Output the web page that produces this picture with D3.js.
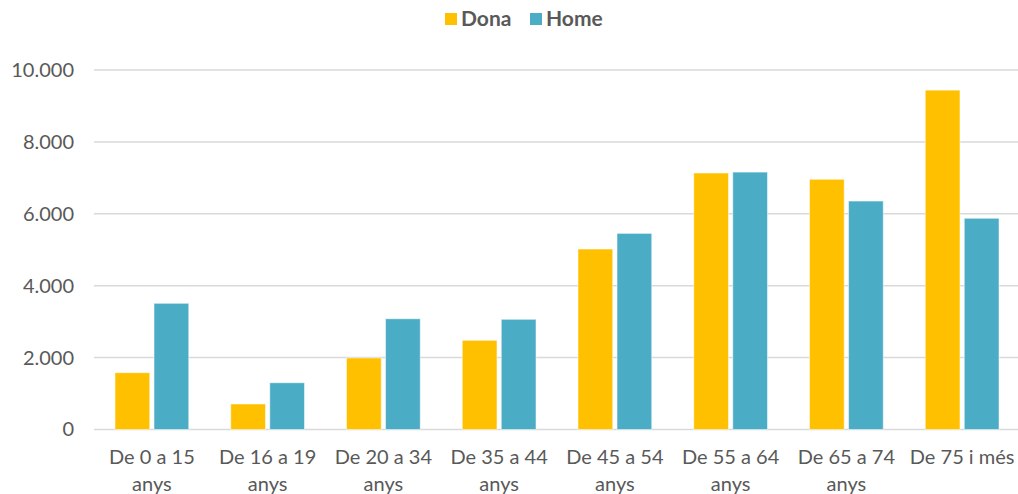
<!DOCTYPE html>
<html>
<head>
<meta charset="utf-8">
<script src="https://cdn.jsdelivr.net/npm/d3@7"></script>
<style>
    body { margin: 0; background: #fff; }
    text { font-family: Lato, "Open Sans", sans-serif; fill: #595959; }
</style>
</head>
<body>
<div id="chart"></div>
<script>
var categories = ["De 0 a 15 anys", "De 16 a 19 anys", "De 20 a 34 anys", "De 35 a 44 anys",
    "De 45 a 54 anys", "De 55 a 64 anys", "De 65 a 74 anys", "De 75 i més"];
var seriesNames = ["Dona", "Home"];
var dona = [1580, 710, 1990, 2480, 5020, 7135, 6960, 9440];
var home = [3510, 1300, 3080, 3065, 5455, 7160, 6355, 5875];
var yTicks = [0, 2000, 4000, 6000, 8000, 10000];
var colors = ["#FFC000", "#4BACC6"];

var width = 1018;
var height = 494;
var plotLeft = 94;
var plotRight = 1020;
var plotTop = 70;
var plotBottom = 429.5;

var rows = categories.map(function (c, i) {
    return { cat: c, values: [dona[i], home[i]] };
});

var locale = d3.formatLocale({ decimal: ",", thousands: ".", grouping: [3], currency: ["", "€"] });
var fmt = locale.format(",.0f");

var svg = d3.select("#chart")
    .append("svg")
    .attr("width", width)
    .attr("height", height);

var x0 = d3.scaleBand()
    .domain(categories)
    .range([plotLeft, plotRight])
    .padding(0);

var x1 = d3.scaleBand()
    .domain(seriesNames)
    .range([21, x0.bandwidth() - 21])
    .paddingInner(0.11);

var y = d3.scaleLinear()
    .domain([0, 10000])
    .range([plotBottom, plotTop]);

// gridlines
svg.append("g")
    .selectAll("line")
    .data(yTicks)
    .enter()
    .append("line")
    .attr("x1", plotLeft)
    .attr("x2", width)
    .attr("y1", function (d) { return y(d); })
    .attr("y2", function (d) { return y(d); })
    .attr("stroke", "#d9d9d9")
    .attr("stroke-width", 1.5);

// y axis labels
var yAxis = d3.axisLeft(y)
    .tickValues(yTicks)
    .tickFormat(fmt)
    .tickSize(0)
    .tickPadding(0);

var gy = svg.append("g")
    .attr("transform", "translate(74,0)")
    .call(yAxis);
gy.select(".domain").remove();
gy.selectAll("text")
    .attr("font-size", 20)
    .style("font-family", "Lato, sans-serif")
    .attr("fill", "#595959");

// bars
var groups = svg.append("g")
    .selectAll("g")
    .data(rows)
    .enter()
    .append("g")
    .attr("transform", function (d) { return "translate(" + x0(d.cat) + ",0)"; });

groups.selectAll("rect")
    .data(function (d) {
        return d.values.map(function (v, i) { return { key: seriesNames[i], value: v, i: i }; });
    })
    .enter()
    .append("rect")
    .attr("x", function (d) { return x1(d.key); })
    .attr("y", function (d) { return y(d.value); })
    .attr("width", x1.bandwidth())
    .attr("height", function (d) { return plotBottom - y(d.value); })
    .attr("fill", function (d) { return colors[d.i]; })
    .attr("stroke", "#ffffff")
    .attr("stroke-opacity", 0.5)
    .attr("stroke-width", 1);

// x axis
var xAxis = d3.axisBottom(x0).tickSize(0).tickPadding(0);
var gx = svg.append("g")
    .attr("transform", "translate(0," + plotBottom + ")")
    .call(xAxis);
gx.select(".domain").remove();
gx.selectAll("text")
    .attr("font-size", 20)
    .style("font-family", "Lato, sans-serif")
    .attr("fill", "#595959")
    .attr("dy", 0)
    .call(wrap, 112);

function wrap(sel, maxW) {
    sel.each(function () {
        var t = d3.select(this);
        var words = t.text().split(" ");
        t.text(null);
        var line = [];
        var lineNo = 0;
        var tspan = t.append("tspan").attr("x", 0).attr("y", 34);
        words.forEach(function (w) {
            line.push(w);
            tspan.text(line.join(" "));
            if (tspan.node().getComputedTextLength() > maxW && line.length > 1) {
                line.pop();
                tspan.text(line.join(" "));
                line = [w];
                lineNo++;
                tspan = t.append("tspan").attr("x", 0).attr("y", 34 + lineNo * 27).text(w);
            }
        });
    });
}

// legend
var legend = svg.append("g");
var legendX = [445, 530];
seriesNames.forEach(function (name, i) {
    legend.append("rect")
        .attr("x", legendX[i])
        .attr("y", 13)
        .attr("width", 12)
        .attr("height", 12)
        .attr("fill", colors[i]);
    legend.append("text")
        .attr("x", legendX[i] + 16)
        .attr("y", 26)
        .attr("font-size", 21)
        .attr("font-weight", "bold")
        .text(name);
});
</script>
</body>
</html>
